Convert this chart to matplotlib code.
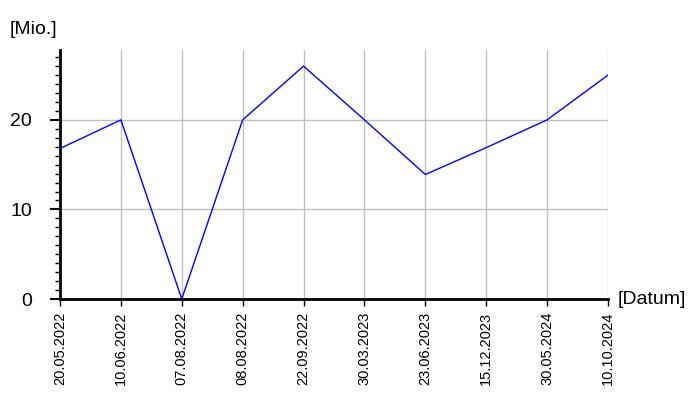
"""Line chart of values per date (categorical x axis)."""

import matplotlib
matplotlib.use("Agg")
import matplotlib.pyplot as plt
from matplotlib.ticker import MultipleLocator

# data
dates = ["20.05.2022", "10.06.2022", "07.08.2022", "08.08.2022", "22.09.2022",
         "30.03.2023", "23.06.2023", "15.12.2023", "30.05.2024", "10.10.2024"]
values = [16.8, 20, 0, 20, 26, 20, 13.9, 16.9, 20, 25]

plt.rcParams["font.family"] = ["Liberation Sans", "DejaVu Sans"]

fig = plt.figure(figsize=(7, 4), dpi=100)
ax = fig.add_axes([60 / 700, 1 - 299 / 400, 548 / 700, 249 / 400])

x = list(range(len(dates)))
ax.plot(x, values, color="#0000ff", linewidth=1, zorder=3)

ax.set_xlim(0, len(dates) - 1)
ax.set_ylim(0, 27.8)
ax.set_xticks(x)
ax.set_xticklabels(dates, rotation=90, fontsize=10.5)
ax.yaxis.set_major_locator(MultipleLocator(10))
ax.yaxis.set_minor_locator(MultipleLocator(1))
ax.tick_params(axis="y", which="major", length=7, width=1.5, labelsize=14, pad=13)
ax.tick_params(axis="y", which="minor", length=3.6, width=1)
ax.tick_params(axis="x", length=5, width=1, pad=4)

ax.grid(True, color="#c0c0c0", linewidth=1)
ax.set_axisbelow(True)

for side in ("top", "right"):
    ax.spines[side].set_visible(False)
ax.spines["left"].set_linewidth(2)
ax.spines["bottom"].set_linewidth(2)

fig.text(10 / 700, 1 - 30 / 400, "[Mio.]", fontsize=14, va="center", ha="left")
fig.text(618 / 700, 1 - 299 / 400, "[Datum]", fontsize=14, va="center", ha="left")

fig.savefig("out.png", dpi=100)
